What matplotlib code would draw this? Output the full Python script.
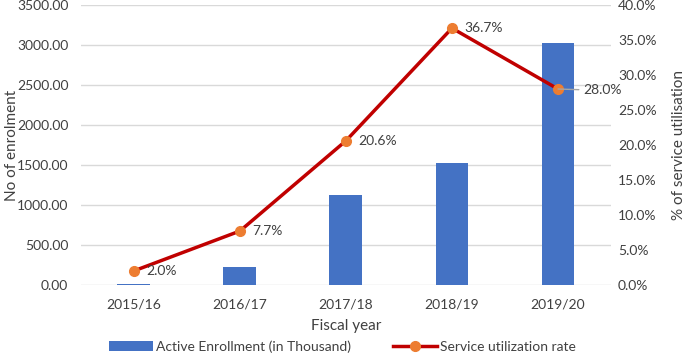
import matplotlib
matplotlib.use("Agg")
import matplotlib.pyplot as plt
from matplotlib.ticker import FuncFormatter, MultipleLocator

plt.rcParams["font.family"] = ["Lato", "DejaVu Sans"]

years = ["2015/16", "2016/17", "2017/18", "2018/19", "2019/20"]
enrollment = [10, 225, 1125, 1525, 3025]
utilization = [2.0, 7.7, 20.6, 36.7, 28.0]

BAR_COLOR = "#4472C4"
LINE_COLOR = "#C00000"
MARKER_COLOR = "#ED7D31"
TEXT_COLOR = "#404040"

fig = plt.figure(figsize=(6.85, 3.62), dpi=100)
ax = fig.add_axes([0.118, 0.213, 0.774, 0.773])
ax2 = ax.twinx()

x = list(range(len(years)))
ax.bar(x, enrollment, width=0.31, color=BAR_COLOR, zorder=2,
       label="Active Enrollment (in Thousand)")
ax.set_ylim(0, 3500)
ax.set_xlim(-0.5, len(years) - 0.5)
ax.yaxis.set_major_locator(MultipleLocator(500))
ax.yaxis.set_major_formatter(FuncFormatter(lambda v, _: f"{v:.2f}"))
ax.grid(axis="y", color="#D9D9D9", linewidth=1, zorder=0)
ax.set_axisbelow(True)
ax.set_xticks(x)
ax.set_xticklabels(years)

ax2.plot(x, utilization, color=LINE_COLOR, linewidth=2.5, marker="o",
         markersize=7, markerfacecolor=MARKER_COLOR, markeredgecolor=MARKER_COLOR,
         zorder=3, label="Service utilization rate")
ax2.set_ylim(0, 40)
ax2.yaxis.set_major_locator(MultipleLocator(5))
ax2.yaxis.set_major_formatter(FuncFormatter(lambda v, _: f"{v:.1f}%"))

for i, v in enumerate(utilization):
    if i == len(utilization) - 1:
        ax2.annotate(f"{v:.1f}%", (i, v), xytext=(18, -1), textcoords="offset points",
                     va="center", ha="left", fontsize=10, color=TEXT_COLOR,
                     arrowprops=dict(arrowstyle="-", color="#A6A6A6", lw=1,
                                     shrinkA=1, shrinkB=0))
    else:
        ax2.annotate(f"{v:.1f}%", (i, v), xytext=(9, 0), textcoords="offset points",
                     va="center", ha="left", fontsize=10, color=TEXT_COLOR)

for a in (ax, ax2):
    for s in a.spines.values():
        s.set_visible(False)
    a.tick_params(length=0, labelsize=10, labelcolor=TEXT_COLOR)
ax.tick_params(axis="x", pad=10)
ax.tick_params(axis="y", pad=9)
ax2.tick_params(axis="y", pad=5)

ax.set_xlabel("Fiscal year", fontsize=11, color=TEXT_COLOR, labelpad=6)
ax.set_ylabel("No of enrolment", fontsize=11, color=TEXT_COLOR)
ax2.set_ylabel("% of service utilisation", fontsize=11, color=TEXT_COLOR)
ax.yaxis.set_label_coords(-0.117, 0.5)
ax2.yaxis.set_label_coords(1.115, 0.5)

h1, l1 = ax.get_legend_handles_labels()
h2, l2 = ax2.get_legend_handles_labels()
fig.legend(h1 + h2, l1 + l2, loc="lower center", bbox_to_anchor=(0.5, -0.01),
           ncol=2, frameon=False, fontsize=10, handlelength=3.2,
           handletextpad=0.2, columnspacing=3, labelcolor=TEXT_COLOR)

fig.savefig("out.png", dpi=100)
